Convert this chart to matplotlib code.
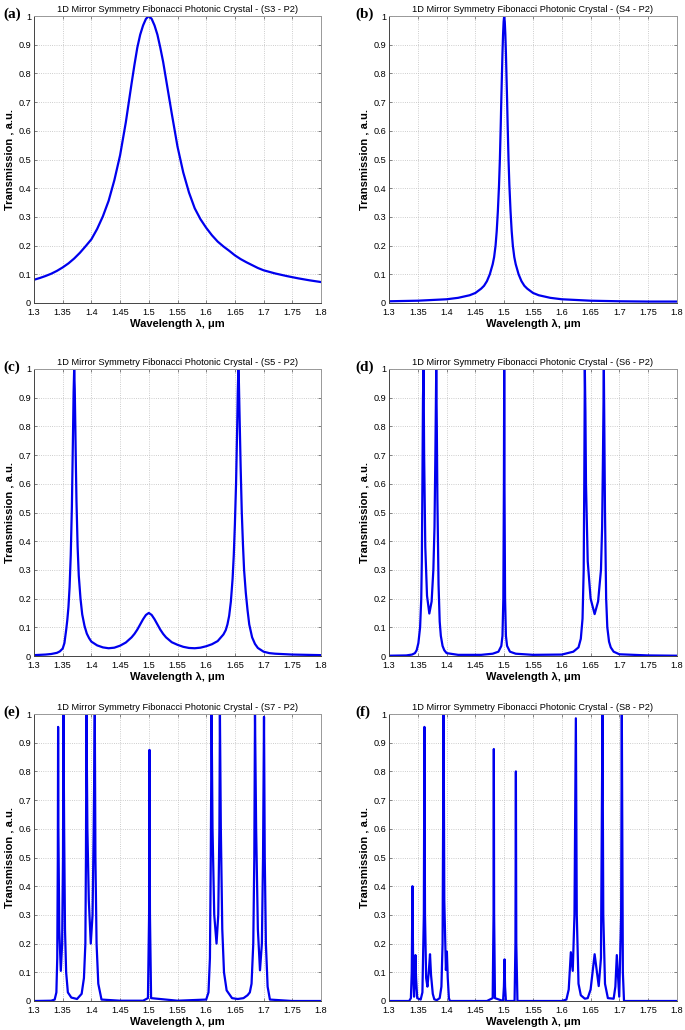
import matplotlib
matplotlib.use("Agg")
import matplotlib.pyplot as plt

plt.rcParams['font.family'] = ['Liberation Sans', 'DejaVu Sans']

# transmission spectra, wavelength in um
wl_s3 = [1.30, 1.31, 1.32, 1.33, 1.34, 1.35, 1.36, 1.37, 1.38, 1.39, 1.40, 1.41, 1.42, 1.43, 1.44,
         1.45, 1.46, 1.47, 1.475, 1.48, 1.485, 1.49, 1.495, 1.50, 1.505, 1.51, 1.515, 1.52, 1.525,
         1.53, 1.54, 1.55, 1.56, 1.57, 1.58, 1.59, 1.60, 1.61, 1.62, 1.63, 1.64, 1.65, 1.66, 1.67,
         1.68, 1.69, 1.70, 1.72, 1.74, 1.76, 1.78, 1.80]
tr_s3 = [0.081, 0.087, 0.094, 0.102, 0.112, 0.124, 0.138, 0.155, 0.175, 0.198, 0.222, 0.258, 0.302,
         0.356, 0.428, 0.515, 0.63, 0.765, 0.83, 0.89, 0.935, 0.967, 0.99, 1.0, 0.99, 0.967, 0.935,
         0.89, 0.84, 0.78, 0.66, 0.545, 0.455, 0.385, 0.33, 0.292, 0.262, 0.236, 0.214, 0.197,
         0.182, 0.166, 0.153, 0.142, 0.132, 0.122, 0.114, 0.103, 0.094, 0.086, 0.079, 0.073]

wl_s4 = [1.30, 1.35, 1.40, 1.42, 1.44, 1.45, 1.46, 1.465, 1.47, 1.475, 1.48, 1.4825, 1.485, 1.487,
         1.489, 1.491, 1.4925, 1.494, 1.495, 1.496, 1.497, 1.498, 1.499, 1.50, 1.501, 1.502, 1.503,
         1.504, 1.505, 1.506, 1.5075, 1.509, 1.511, 1.513, 1.515, 1.5175, 1.52, 1.525, 1.53, 1.535,
         1.54, 1.55, 1.56, 1.58, 1.60, 1.65, 1.70, 1.75, 1.80]
tr_s4 = [0.006, 0.008, 0.013, 0.018, 0.027, 0.035, 0.05, 0.06, 0.076, 0.1, 0.135, 0.16, 0.2, 0.25,
         0.32, 0.41, 0.5, 0.62, 0.71, 0.79, 0.87, 0.935, 0.98, 1.0, 0.98, 0.935, 0.87,
         0.79, 0.71, 0.62, 0.5, 0.41, 0.32, 0.25, 0.2, 0.16, 0.135, 0.1, 0.076, 0.06,
         0.05, 0.035, 0.027, 0.018, 0.013, 0.008, 0.006, 0.005, 0.005]

wl_s5 = [1.30, 1.32, 1.33, 1.34, 1.345, 1.35, 1.353, 1.356, 1.358, 1.360, 1.362, 1.364, 1.366, 1.367,
         1.368, 1.369, 1.370, 1.371, 1.372, 1.373, 1.374, 1.376, 1.378, 1.381, 1.384, 1.388, 1.392,
         1.396, 1.40, 1.41, 1.42, 1.43, 1.44, 1.45, 1.46, 1.47, 1.475, 1.48, 1.485, 1.49, 1.495, 1.50,
         1.505, 1.51, 1.515, 1.52, 1.525, 1.53, 1.54, 1.55, 1.56, 1.57, 1.58, 1.59, 1.60, 1.61, 1.62,
         1.63, 1.634, 1.637, 1.640, 1.643, 1.646, 1.648, 1.650, 1.652, 1.654, 1.655, 1.656, 1.657,
         1.658, 1.660, 1.662, 1.664, 1.666, 1.669, 1.672, 1.675, 1.68, 1.685, 1.69, 1.70, 1.71, 1.72,
         1.75, 1.80]
tr_s5 = [0.003, 0.005, 0.007, 0.011, 0.016, 0.026, 0.045, 0.09, 0.125, 0.17, 0.24, 0.35, 0.52, 0.65,
         0.78, 0.92, 1.0, 0.93, 0.8, 0.66, 0.54, 0.38, 0.28, 0.2, 0.145, 0.105, 0.078,
         0.062, 0.05, 0.037, 0.03, 0.027, 0.029, 0.036, 0.047, 0.065, 0.077, 0.092, 0.11, 0.128, 0.143,
         0.15, 0.143, 0.128, 0.11, 0.092, 0.077, 0.065, 0.048, 0.039, 0.032, 0.028, 0.027, 0.029,
         0.034, 0.041, 0.052, 0.075, 0.09, 0.11, 0.14, 0.19, 0.27, 0.35, 0.46, 0.6, 0.8, 0.92, 1.0,
         0.95, 0.85, 0.66, 0.5, 0.39, 0.3, 0.22, 0.16, 0.11, 0.065, 0.042, 0.028, 0.015, 0.01, 0.008,
         0.005, 0.003]

wl_s6 = [1.30, 1.33, 1.34, 1.345, 1.348, 1.351, 1.354, 1.356, 1.357, 1.358, 1.359, 1.360, 1.361,
         1.363, 1.366, 1.370, 1.374, 1.377, 1.379, 1.3805, 1.382, 1.383, 1.384, 1.386, 1.388, 1.390,
         1.393, 1.396, 1.40, 1.42, 1.46, 1.48, 1.49, 1.495, 1.497, 1.4985, 1.4995, 1.500, 1.5005,
         1.5015, 1.503, 1.505, 1.51, 1.52, 1.55, 1.60, 1.62, 1.629, 1.633, 1.636, 1.638, 1.639, 1.640,
         1.641, 1.642, 1.645, 1.650, 1.657, 1.663, 1.668, 1.670, 1.6715, 1.673, 1.674, 1.675, 1.677,
         1.679, 1.682, 1.685, 1.69, 1.70, 1.75, 1.80]
tr_s6 = [0.001, 0.002, 0.005, 0.01, 0.02, 0.045, 0.1, 0.2, 0.33, 0.6, 0.9, 1.0, 0.7,
         0.38, 0.21, 0.148, 0.19, 0.3, 0.45, 0.7, 1.0, 0.8, 0.55, 0.25, 0.12, 0.07,
         0.035, 0.02, 0.01, 0.004, 0.004, 0.008, 0.015, 0.035, 0.07, 0.2, 0.6, 1.0, 0.6,
         0.2, 0.07, 0.035, 0.015, 0.008, 0.004, 0.005, 0.015, 0.03, 0.06, 0.13, 0.3, 0.6, 1.0,
         0.85, 0.6, 0.33, 0.2, 0.146, 0.19, 0.3, 0.45, 0.7, 1.0, 0.75, 0.5, 0.2,
         0.1, 0.05, 0.03, 0.015, 0.006, 0.002, 0.001]

wl_s7 = [1.30, 1.33, 1.336, 1.339, 1.3405, 1.3415, 1.342, 1.3425, 1.344, 1.3467, 1.349, 1.3505, 1.3513,
         1.3525, 1.354, 1.356, 1.359, 1.365, 1.375, 1.383, 1.387, 1.3895, 1.3905, 1.3914, 1.393, 1.3955,
         1.3989, 1.402, 1.404, 1.4059, 1.407, 1.409, 1.412, 1.4176, 1.45, 1.49, 1.4985, 1.5005, 1.5012,
         1.502, 1.504, 1.55, 1.60, 1.604, 1.6065, 1.608, 1.6094, 1.611, 1.614, 1.618, 1.621, 1.623,
         1.6239, 1.6255, 1.628, 1.631, 1.6356, 1.645, 1.655, 1.665, 1.672, 1.676, 1.679, 1.682, 1.6838,
         1.685, 1.687, 1.69, 1.6937, 1.697, 1.699, 1.7007, 1.702, 1.704, 1.707, 1.711, 1.75, 1.80]
tr_s7 = [0.0, 0.001, 0.005, 0.03, 0.15, 0.5, 0.955, 0.6, 0.25, 0.105, 0.2, 0.5, 1.0,
         0.6, 0.25, 0.1, 0.03, 0.012, 0.007, 0.025, 0.08, 0.2, 0.5, 1.0, 0.6, 0.35,
         0.2, 0.3, 0.6, 1.0, 0.5, 0.2, 0.06, 0.005, 0.001, 0.001, 0.01, 0.3, 0.875,
         0.3, 0.01, 0.001, 0.005, 0.03, 0.15, 0.5, 1.0, 0.6, 0.3, 0.2, 0.3, 0.6,
         1.0, 0.6, 0.25, 0.1, 0.037, 0.01, 0.007, 0.01, 0.02, 0.03, 0.06, 0.2, 0.5,
         1.0, 0.6, 0.25, 0.107, 0.2, 0.5, 0.99, 0.5, 0.2, 0.05, 0.005, 0.0, 0.0]

wl_s8 = [1.30, 1.335, 1.338, 1.3395, 1.3407, 1.342, 1.3435, 1.345, 1.3459, 1.347, 1.349, 1.355, 1.358,
         1.3605, 1.3615, 1.3625, 1.3645, 1.3667, 1.369, 1.3712, 1.373, 1.376, 1.3786, 1.383, 1.388,
         1.391, 1.393, 1.3948, 1.396, 1.3988, 1.4005, 1.402, 1.404, 1.4057, 1.47, 1.48, 1.4815, 1.482,
         1.4825, 1.484, 1.498, 1.4995, 1.5006, 1.5015, 1.503, 1.518, 1.5195, 1.5203, 1.521, 1.523,
         1.60, 1.608, 1.612, 1.6157, 1.619, 1.622, 1.6244, 1.626, 1.629, 1.633, 1.64, 1.645, 1.65,
         1.657, 1.6641, 1.668, 1.6706, 1.672, 1.675, 1.68, 1.69, 1.693, 1.6955, 1.6997, 1.703, 1.7042,
         1.706, 1.708, 1.75, 1.80]
tr_s8 = [0.0, 0.0, 0.01, 0.1, 0.40, 0.1, 0.015, 0.08, 0.16, 0.08, 0.01, 0.005, 0.03,
         0.3, 0.955, 0.3, 0.08, 0.05, 0.1, 0.163, 0.09, 0.025, 0.006, 0.003, 0.01,
         0.05, 0.2, 1.0, 0.35, 0.108, 0.172, 0.08, 0.01, 0.0, 0.0, 0.01, 0.3, 0.878,
         0.3, 0.01, 0.0, 0.05, 0.145, 0.05, 0.0, 0.0, 0.2, 0.80, 0.2, 0.0,
         0.0, 0.005, 0.04, 0.17, 0.105, 0.3, 0.985, 0.3, 0.06, 0.02, 0.008, 0.01, 0.04,
         0.163, 0.052, 0.15, 1.0, 0.3, 0.06, 0.01, 0.008, 0.05, 0.16, 0.015, 0.3, 1.0,
         0.1, 0.0, 0.0, 0.0]

structures = ["S3", "S4", "S5", "S6", "S7", "S8"]
panel_tags = ["(a)", "(b)", "(c)", "(d)", "(e)", "(f)"]
x_ticks = [1.3, 1.35, 1.4, 1.45, 1.5, 1.55, 1.6, 1.65, 1.7, 1.75, 1.8]
x_ticklabels = ["1.3", "1.35", "1.4", "1.45", "1.5", "1.55", "1.6", "1.65", "1.7", "1.75", "1.8"]
y_ticks = [0, 0.1, 0.2, 0.3, 0.4, 0.5, 0.6, 0.7, 0.8, 0.9, 1.0]
y_ticklabels = ["0", "0.1", "0.2", "0.3", "0.4", "0.5", "0.6", "0.7", "0.8", "0.9", "1"]

spectra = [(wl_s3, tr_s3), (wl_s4, tr_s4), (wl_s5, tr_s5),
           (wl_s6, tr_s6), (wl_s7, tr_s7), (wl_s8, tr_s8)]

W, H = 685, 1030
fig = plt.figure(figsize=(W / 100, H / 100), dpi=100)

# axes boxes in pixels: (left, right) per column, (top, bottom) per row
lefts = [(34, 321), (389, 677)]
rows = [(16, 303), (369, 656), (714, 1001)]

for i, (wl, tr) in enumerate(spectra):
    r, c = divmod(i, 2)
    x0, x1 = lefts[c]
    y0, y1 = rows[r]
    ax = fig.add_axes([x0 / W, 1 - y1 / H, (x1 - x0) / W, (y1 - y0) / H])
    ax.plot(wl, tr, color="#0000ee", lw=1.6, solid_joinstyle="round")
    ax.set_xlim(1.3, 1.8)
    ax.set_ylim(0, 1)
    ax.set_xticks(x_ticks)
    ax.set_xticklabels(x_ticklabels)
    ax.set_yticks(y_ticks)
    ax.set_yticklabels(y_ticklabels)
    ax.grid(True, linestyle=":", color="#bdbdbd", lw=0.6)
    ax.tick_params(direction="in", length=2.5, width=0.5, labelsize=6.6, pad=2,
                   top=True, right=True, color="#555555")
    ax.tick_params(axis="x", pad=3.8)
    for side in ["left", "bottom"]:
        ax.spines[side].set_color("#444444")
    for side in ["top", "right"]:
        ax.spines[side].set_color("#999999")
    for s in ax.spines.values():
        s.set_linewidth(0.7)
    ax.set_title("1D Mirror Symmetry Fibonacci Photonic Crystal - (%s - P2)" % structures[i],
                 fontsize=6.7, pad=3)
    ax.set_xlabel("Wavelength λ, μm", fontsize=8, fontweight="bold", labelpad=1)
    ax.set_ylabel("Transmission , a.u.", fontsize=8, fontweight="bold", labelpad=3)
    tag_x = 3 if c == 0 else 355
    fig.text(tag_x / W, 1 - (y0 - 2) / H, panel_tags[i], fontsize=11, fontweight="bold",
             family="Liberation Serif", va="center", ha="left")

fig.savefig("out.png", dpi=100)
